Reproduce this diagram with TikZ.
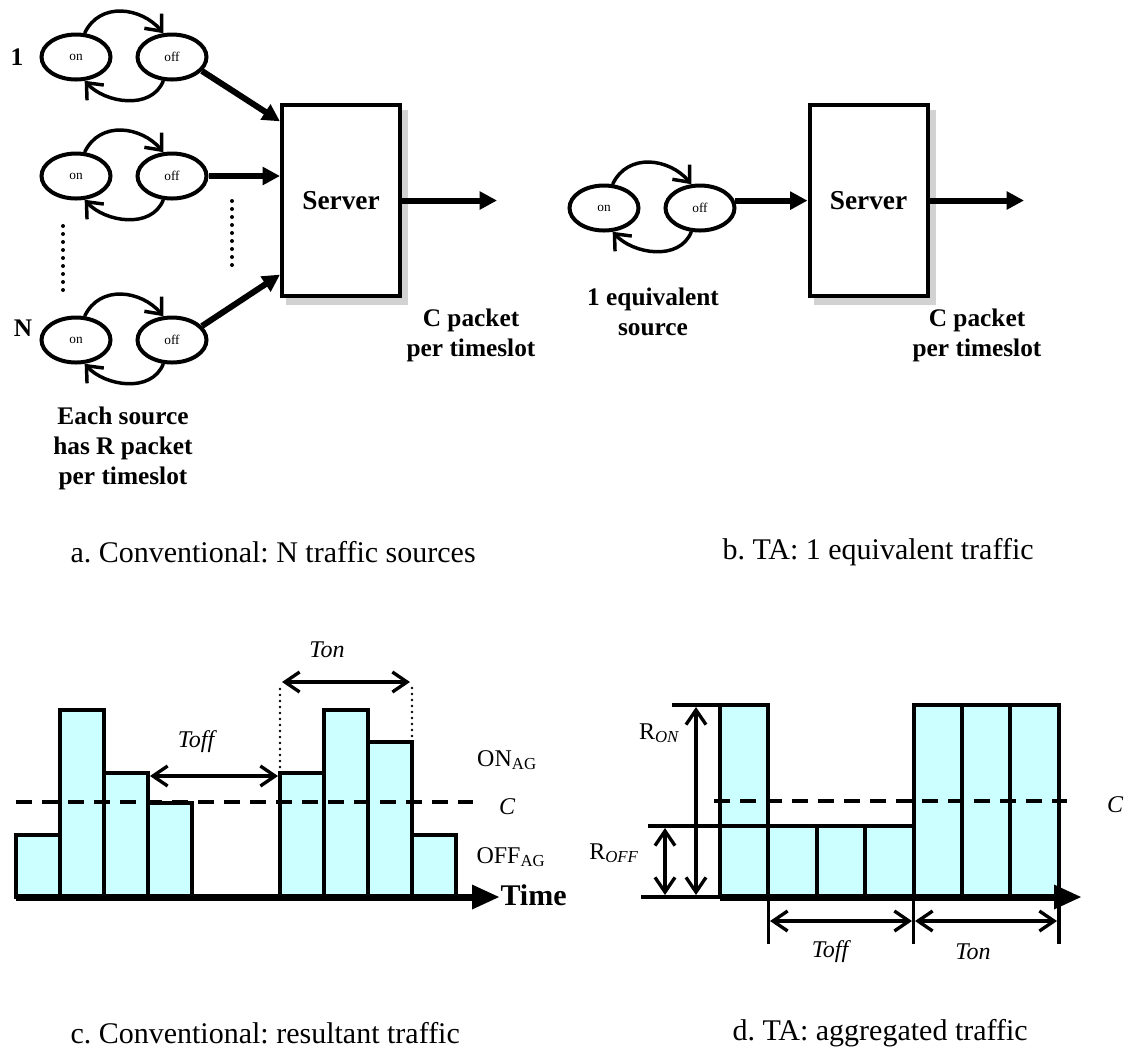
\documentclass[tikz,border=0pt]{standalone}
\usepackage{fontspec}
\setmainfont{Liberation Serif}
\usetikzlibrary{arrows.meta,shapes.geometric,calc,backgrounds}
\frenchspacing

\definecolor{barcyan}{RGB}{204,255,255}

\tikzset{every picture/.style={line width=0.75pt}}
\tikzset{
	srcstate/.style={draw,ellipse,line width=3pt,minimum width=51.75pt,minimum height=33.75pt,inner sep=0pt,font=\fontsize{10}{10}\selectfont},
	server/.style={draw,fill=white,line width=3pt,minimum width=88.5pt,minimum height=143.25pt,inner sep=0pt,font=\fontsize{20.5}{24}\selectfont\bfseries},
	srvshadow/.style={fill=gray!35},
	cycarrow/.style={line width=2.6pt,-{Straight Barb[length=10pt,width=17pt]}},
	feed/.style={line width=4.5pt,-{Triangle[length=13pt,width=13pt]}},
	lbl/.style={font=\fontsize{19}{22.5}\selectfont\bfseries,align=center,inner sep=0pt},
	capt/.style={font=\fontsize{22.5}{27}\selectfont,anchor=west,inner sep=0pt},
	plotlbl/.style={font=\fontsize{18}{20}\selectfont,inner sep=0pt},
	bar/.style={draw,fill=barcyan,line width=3pt},
	barline/.style={line width=3pt},
	capline/.style={line width=3pt,dash pattern=on 12pt off 7.5pt},
	timeaxis/.style={line width=5.25pt,-{Triangle[length=21pt,width=17pt]}},
	dimarrow/.style={line width=2.5pt,{Straight Barb[length=11pt,width=15pt]}-{Straight Barb[length=11pt,width=15pt]}},
	dotcol/.style={line width=3pt,line cap=round,dash pattern=on 0pt off 6pt},
	guide/.style={line width=2pt,line cap=round,dash pattern=on 0pt off 4.5pt},
	tick/.style={line width=2.6pt}
}

\begin{document}
\begin{tikzpicture}[x=0.75pt,y=0.75pt,yscale=-1,xscale=1]
	\useasboundingbox (0,0) rectangle (1137,1051);

	%%%%%% a. Conventional
	%Shape: Ellipse 
	\node[srcstate] (onA1) at (76,57) {on};
	\node[srcstate] (offA1) at (172,57) {off};
	\node[srcstate] (onA2) at (76,176) {on};
	\node[srcstate] (offA2) at (172,176) {off};
	\node[srcstate] (onAN) at (76,340) {on};
	\node[srcstate] (offAN) at (172,340) {off};
	%Shape: Rectangle 
	\node[server] (srvA) at (341,200.5) {Server};
	\begin{scope}[on background layer]
		\fill[srvshadow] ([shift={(6,7)}]srvA.north west) rectangle ([shift={(6,7)}]srvA.south east);
	\end{scope}
	%Curve Lines 
	\foreach \s in {A1,A2,AN}{
		\draw[cycarrow] (on\s.70) .. controls +(15,-32) and +(-22,-26) .. (off\s.110);
		\draw[cycarrow] (off\s.-110) .. controls +(-12,30) and +(20,22) .. (on\s.-70);
	}
	%Straight Lines 
	\coordinate (inA1) at ($(srvA.north west)!0.094!(srvA.south west)$);
	\coordinate (inAN) at ($(srvA.north west)!0.88!(srvA.south west)$);
	\coordinate (outA) at (497,200.5);
	\draw[feed] (offA1.-25) -- (inA1);
	\draw[feed] (offA2.east) -- (offA2.east -| srvA.west);
	\draw[feed] (offAN.25) -- (inAN);
	\draw[feed] (srvA.east) -- (outA);
	%Dotted Lines 
	\draw[dotcol] (63,226) -- (63,290);
	\draw[dotcol] (232,201) -- (232,266);

	% Text Node
	\node[lbl] (numA1) at (17,57) {1};
	\node[lbl] (numAN) at (23,328) {N};
	\node[lbl] (eachA) at (123,448) {Each source\\has R packet\\per timeslot};
	\node[lbl] (rateA) at (471,335) {C packet\\per timeslot};
	\node[capt] (captA) at (70,552) {a. Conventional: N traffic sources};

	%%%%%% b. TA
	%Shape: Ellipse 
	\node[srcstate] (onB) at (604,208) {on};
	\node[srcstate] (offB) at (700,208) {off};
	%Shape: Rectangle 
	\node[server] (srvB) at (868.5,200.5) {Server};
	\begin{scope}[on background layer]
		\fill[srvshadow] ([shift={(6,7)}]srvB.north west) rectangle ([shift={(6,7)}]srvB.south east);
	\end{scope}
	%Curve Lines 
	\draw[cycarrow] (onB.70) .. controls +(15,-32) and +(-22,-26) .. (offB.110);
	\draw[cycarrow] (offB.-110) .. controls +(-12,30) and +(20,22) .. (onB.-70);
	%Straight Lines 
	\coordinate (outB) at (1024,200.5);
	\draw[feed] (offB.12) -- (offB.12 -| srvB.west);
	\draw[feed] (srvB.east) -- (outB);

	% Text Node
	\node[lbl] (eqB) at (653,312) {1 equivalent\\source};
	\node[lbl] (rateB) at (977,335) {C packet\\per timeslot};
	\node[capt] (captB) at (722,552) {b. TA: 1 equivalent traffic};

	%%%%%% c. resultant traffic
	%Shape: Rectangle 
	\foreach \xl/\yt in {16/835,60/710,104/773,148/803,280/773,324/710,368/742,412/835}
		\draw[bar] (\xl,897) rectangle (\xl+44,\yt);
	%Straight Lines 
	\draw[capline] (16,802) -- (473,802);
	\draw[guide] (280,773) -- (280,686);
	\draw[guide] (412,742) -- (412,686);
	\draw[dimarrow] (150,776) -- (278,776);
	\draw[dimarrow] (282,682) -- (410,682);
	\node[font=\fontsize{22.5}{24}\selectfont\bfseries,anchor=base west,inner sep=0pt] (timeC) at (500,905) {Time};
	\draw[timeaxis] (16,897) -- (timeC.west |- 0,897);

	% Text Node
	\node[plotlbl] (toffC) at (196,742) {\itshape Toff};
	\node[plotlbl] (tonC) at (327,650) {\itshape Ton};
	\node[plotlbl] (onagC) at (507,760) {ON\textsubscript{AG}};
	\node[plotlbl] (capC) at (507,807) {\itshape C};
	\node[plotlbl] (offagC) at (511,857) {OFF\textsubscript{AG}};
	\node[capt] (captC) at (70,1033) {c. Conventional: resultant traffic};

	%%%%%% d. aggregated traffic
	%Shape: Rectangle 
	\foreach \i/\yt in {0/705,1/826,2/826,3/826,4/705,5/705,6/705}
		\draw[bar] (720+48.4*\i,897) rectangle (768.4+48.4*\i,\yt);
	%Straight Lines 
	\draw[barline] (672,705) -- (720,705);
	\draw[barline] (648,826) -- (913.6,826);
	\draw[line width=2.5pt] (641,897) -- (720,897);
	\draw[capline] (714,801) -- (1067,801);
	\coordinate (axisD) at (1082,897);
	\draw[timeaxis] (720,897) -- (axisD);
	\draw[dimarrow] (696,707) -- (696,895);
	\draw[dimarrow] (665,828) -- (665,895);
	\foreach \x in {768.4,913.6,1058.8}
		\draw[tick] (\x,897) -- (\x,944);
	\draw[dimarrow] (770,921) -- (912,921);
	\draw[dimarrow] (915,921) -- (1057,921);

	% Text Node
	\node[plotlbl] (ronD) at (659,733) {R\textsubscript{\itshape ON}};
	\node[plotlbl] (roffD) at (614,853) {R\textsubscript{\itshape OFF}};
	\node[plotlbl] (capD) at (1115,805) {\itshape C};
	\node[plotlbl] (toffD) at (830,952) {\itshape Toff};
	\node[plotlbl] (tonD) at (973,952) {\itshape Ton};
	\node[capt] (captD) at (732,1033) {d. TA: aggregated traffic};

\end{tikzpicture}
\end{document}
